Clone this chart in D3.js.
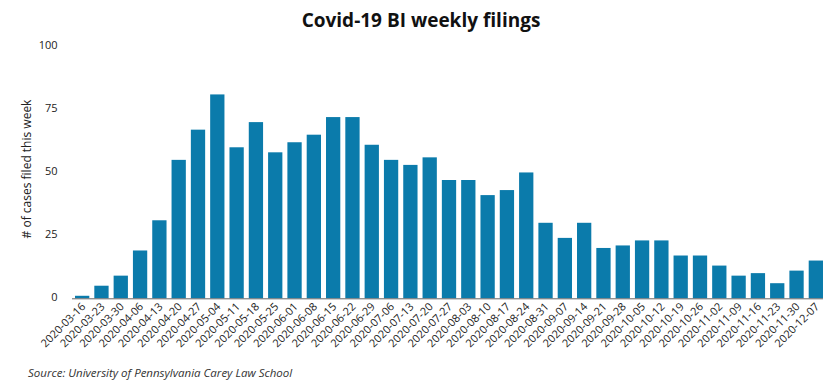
<!DOCTYPE html>
<html>
<head>
<meta charset="utf-8">
<script src="https://cdn.jsdelivr.net/npm/d3@7"></script>
<style>
  html, body { margin: 0; padding: 0; background: #fff; }
  svg { display: block; font-family: "Open Sans", sans-serif; }
</style>
</head>
<body>
<svg id="chart" width="840" height="389"></svg>
<script>
const weeks = ["2020-03-16","2020-03-23","2020-03-30","2020-04-06","2020-04-13","2020-04-20","2020-04-27",
  "2020-05-04","2020-05-11","2020-05-18","2020-05-25","2020-06-01","2020-06-08","2020-06-15","2020-06-22",
  "2020-06-29","2020-07-06","2020-07-13","2020-07-20","2020-07-27","2020-08-03","2020-08-10","2020-08-17",
  "2020-08-24","2020-08-31","2020-09-07","2020-09-14","2020-09-21","2020-09-28","2020-10-05","2020-10-12",
  "2020-10-19","2020-10-26","2020-11-02","2020-11-09","2020-11-16","2020-11-23","2020-11-30","2020-12-07"];
const filings = [1,5,9,19,31,55,67,81,60,70,58,62,65,72,72,61,55,53,56,47,47,41,43,50,30,24,30,20,21,23,23,17,17,13,9,10,6,11,15];
const yTicks = [0,25,50,75,100];
const titleText = "Covid-19 BI weekly filings";
const yTitle = "# of cases filed this week";
const sourceText = "Source: University of Pennsylvania Carey Law School";

const svg = d3.select("#chart");
const x = d3.scaleBand().domain(weeks).range([72.5, 825.5]).paddingInner(0.26).paddingOuter(0.13);
const y = d3.scaleLinear().domain([0, 100]).range([298.3, 46.6]);

// title
svg.append("text").attr("x", 421).attr("y", 27).attr("text-anchor", "middle")
  .attr("font-size", 19).attr("font-weight", 700).attr("fill", "#111").text(titleText);

// y axis labels
const yAxis = d3.axisLeft(y).tickValues(yTicks).tickSize(0).tickPadding(0).tickFormat(d3.format("d"));
const gy = svg.append("g").attr("transform", "translate(57.5,-1.5)").call(yAxis);
gy.select(".domain").remove();
gy.selectAll("text").attr("font-size", 11).attr("fill", "#222").attr("font-family", "Open Sans");

// y title
svg.append("text").attr("transform", "translate(31,169) rotate(-90)").attr("text-anchor", "middle")
  .attr("font-size", 12).attr("fill", "#222").text(yTitle);

// bars
svg.append("g").selectAll("rect").data(weeks).join("rect")
  .attr("x", d => x(d)).attr("width", x.bandwidth())
  .attr("y", (d, i) => y(filings[i])).attr("height", (d, i) => y(0) - y(filings[i]))
  .attr("fill", "#0b7bab");

// x axis
const xAxis = d3.axisBottom(x).tickSize(0).tickPadding(0);
const gx = svg.append("g").attr("transform", `translate(0,${y(0)})`).call(xAxis);
gx.select(".domain").remove();
gx.selectAll("text").attr("font-size", 11).attr("fill", "#222").attr("font-family", "Open Sans")
  .attr("text-anchor", "end").attr("dy", null).attr("y", 0)
  .attr("transform", "translate(4,9) rotate(-45)");
svg.append("line").attr("x1", x.range()[0] - 0.5).attr("x2", x(weeks[weeks.length - 1]) + x.bandwidth())
  .attr("y1", y(0) + 0.5).attr("y2", y(0) + 0.5).attr("stroke", "#666").attr("stroke-width", 1);

// source
svg.append("text").attr("x", 28).attr("y", 377).attr("font-size", 11.5).attr("font-style", "italic")
  .attr("fill", "#333").text(sourceText);
</script>
</body>
</html>
